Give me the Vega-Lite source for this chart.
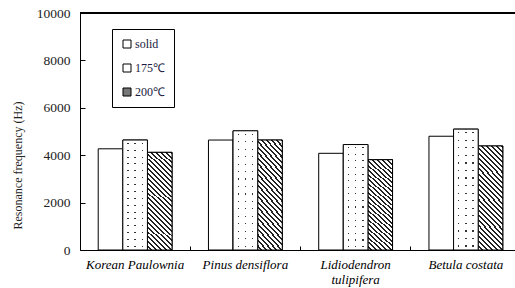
{
  "$schema": "https://vega.github.io/schema/vega-lite/v6.json",
  "autosize": "none",
  "width": 435,
  "height": 237,
  "padding": {"left": 80, "top": 13, "right": 0, "bottom": 38},
  "background": "white",
  "config": {"view": {"stroke": null}},
  "data": {"values": [
    {"species": "Korean Paulownia", "type": "solid", "value": 4270},
    {"species": "Korean Paulownia", "type": "175℃", "value": 4640},
    {"species": "Korean Paulownia", "type": "200℃", "value": 4120},
    {"species": "Pinus densiflora", "type": "solid", "value": 4640},
    {"species": "Pinus densiflora", "type": "175℃", "value": 5030},
    {"species": "Pinus densiflora", "type": "200℃", "value": 4640},
    {"species": "Lidiodendron tulipifera", "type": "solid", "value": 4080},
    {"species": "Lidiodendron tulipifera", "type": "175℃", "value": 4450},
    {"species": "Lidiodendron tulipifera", "type": "200℃", "value": 3810},
    {"species": "Betula costata", "type": "solid", "value": 4800},
    {"species": "Betula costata", "type": "175℃", "value": 5100},
    {"species": "Betula costata", "type": "200℃", "value": 4390}
  ]},
  "encoding": {
    "x": {"field": "species", "type": "nominal", "sort": null,
      "scale": {"range": [0, 441], "paddingInner": 0, "paddingOuter": 0},
      "axis": {"title": null, "labelAngle": 0, "bandPosition": 0,
        "tickSize": -4, "tickColor": "black", "domainColor": "black", "labelPadding": 12,
        "labelFont": "Liberation Serif", "labelFontStyle": "italic", "labelFontSize": 13,
        "labelColor": "black", "labelLineHeight": 15,
        "labelExpr": "datum.value == 'Lidiodendron tulipifera' ? ['Lidiodendron', 'tulipifera'] : datum.value"}},
    "xOffset": {"field": "type", "type": "nominal",
      "scale": {"domain": ["solid", "175℃", "200℃"], "paddingInner": 0, "paddingOuter": 0.74}},
    "y": {"field": "value", "type": "quantitative",
      "scale": {"domain": [0, 10000], "nice": false},
      "axis": {"values": [0, 2000, 4000, 6000, 8000, 10000], "format": "d", "grid": false,
        "tickSize": -5, "tickColor": "black", "domainColor": "black", "labelPadding": 15,
        "labelFont": "Liberation Serif", "labelFontSize": 13.5, "labelColor": "#222",
        "title": "Resonance frequency (Hz)", "titleFont": "Liberation Serif", "titleFontSize": 12,
        "titleFontWeight": "normal", "titleColor": "#222", "titleX": -56, "titleY": 152}}
  },
  "layer": [
    {
      "mark": {"type": "bar", "stroke": "black", "strokeWidth": 1},
      "encoding": {
        "fill": {"field": "type", "type": "nominal",
          "scale": {"domain": ["solid", "175℃", "200℃"], "range": ["white", "white", "#777777"]},
          "legend": {"title": null, "orient": "none", "legendX": 32, "legendY": 16,
            "direction": "vertical", "strokeColor": "black", "fillColor": "white", "padding": 9,
            "symbolType": "square", "symbolSize": 64, "symbolStrokeColor": "black", "symbolStrokeWidth": 1,
            "labelFont": "Liberation Serif", "labelFontSize": 12, "labelColor": "#1a1a40",
            "labelOffset": 2, "rowPadding": 12}}
      }
    },
    {
      "transform": [{"filter": "datum.type == '200℃'"}],
      "mark": {"type": "bar", "stroke": "black", "strokeWidth": 1,
        "fill": {"gradient": "linear", "x1": 0, "y1": 1, "x2": 0.289, "y2": -0.176, "stops": [
          {"offset": 0, "color": "#ffffff"}, {"offset": 0.024, "color": "#ffffff"}, {"offset": 0.024, "color": "#222222"}, {"offset": 0.04, "color": "#222222"},
          {"offset": 0.04, "color": "#ffffff"}, {"offset": 0.064, "color": "#ffffff"}, {"offset": 0.064, "color": "#222222"}, {"offset": 0.08, "color": "#222222"},
          {"offset": 0.08, "color": "#ffffff"}, {"offset": 0.104, "color": "#ffffff"}, {"offset": 0.104, "color": "#222222"}, {"offset": 0.12, "color": "#222222"},
          {"offset": 0.12, "color": "#ffffff"}, {"offset": 0.144, "color": "#ffffff"}, {"offset": 0.144, "color": "#222222"}, {"offset": 0.16, "color": "#222222"},
          {"offset": 0.16, "color": "#ffffff"}, {"offset": 0.184, "color": "#ffffff"}, {"offset": 0.184, "color": "#222222"}, {"offset": 0.2, "color": "#222222"},
          {"offset": 0.2, "color": "#ffffff"}, {"offset": 0.224, "color": "#ffffff"}, {"offset": 0.224, "color": "#222222"}, {"offset": 0.24, "color": "#222222"},
          {"offset": 0.24, "color": "#ffffff"}, {"offset": 0.264, "color": "#ffffff"}, {"offset": 0.264, "color": "#222222"}, {"offset": 0.28, "color": "#222222"},
          {"offset": 0.28, "color": "#ffffff"}, {"offset": 0.304, "color": "#ffffff"}, {"offset": 0.304, "color": "#222222"}, {"offset": 0.32, "color": "#222222"},
          {"offset": 0.32, "color": "#ffffff"}, {"offset": 0.344, "color": "#ffffff"}, {"offset": 0.344, "color": "#222222"}, {"offset": 0.36, "color": "#222222"},
          {"offset": 0.36, "color": "#ffffff"}, {"offset": 0.384, "color": "#ffffff"}, {"offset": 0.384, "color": "#222222"}, {"offset": 0.4, "color": "#222222"},
          {"offset": 0.4, "color": "#ffffff"}, {"offset": 0.424, "color": "#ffffff"}, {"offset": 0.424, "color": "#222222"}, {"offset": 0.44, "color": "#222222"},
          {"offset": 0.44, "color": "#ffffff"}, {"offset": 0.464, "color": "#ffffff"}, {"offset": 0.464, "color": "#222222"}, {"offset": 0.48, "color": "#222222"},
          {"offset": 0.48, "color": "#ffffff"}, {"offset": 0.504, "color": "#ffffff"}, {"offset": 0.504, "color": "#222222"}, {"offset": 0.52, "color": "#222222"},
          {"offset": 0.52, "color": "#ffffff"}, {"offset": 0.544, "color": "#ffffff"}, {"offset": 0.544, "color": "#222222"}, {"offset": 0.56, "color": "#222222"},
          {"offset": 0.56, "color": "#ffffff"}, {"offset": 0.584, "color": "#ffffff"}, {"offset": 0.584, "color": "#222222"}, {"offset": 0.6, "color": "#222222"},
          {"offset": 0.6, "color": "#ffffff"}, {"offset": 0.624, "color": "#ffffff"}, {"offset": 0.624, "color": "#222222"}, {"offset": 0.64, "color": "#222222"},
          {"offset": 0.64, "color": "#ffffff"}, {"offset": 0.664, "color": "#ffffff"}, {"offset": 0.664, "color": "#222222"}, {"offset": 0.68, "color": "#222222"},
          {"offset": 0.68, "color": "#ffffff"}, {"offset": 0.704, "color": "#ffffff"}, {"offset": 0.704, "color": "#222222"}, {"offset": 0.72, "color": "#222222"},
          {"offset": 0.72, "color": "#ffffff"}, {"offset": 0.744, "color": "#ffffff"}, {"offset": 0.744, "color": "#222222"}, {"offset": 0.76, "color": "#222222"},
          {"offset": 0.76, "color": "#ffffff"}, {"offset": 0.784, "color": "#ffffff"}, {"offset": 0.784, "color": "#222222"}, {"offset": 0.8, "color": "#222222"},
          {"offset": 0.8, "color": "#ffffff"}, {"offset": 0.824, "color": "#ffffff"}, {"offset": 0.824, "color": "#222222"}, {"offset": 0.84, "color": "#222222"},
          {"offset": 0.84, "color": "#ffffff"}, {"offset": 0.864, "color": "#ffffff"}, {"offset": 0.864, "color": "#222222"}, {"offset": 0.88, "color": "#222222"},
          {"offset": 0.88, "color": "#ffffff"}, {"offset": 0.904, "color": "#ffffff"}, {"offset": 0.904, "color": "#222222"}, {"offset": 0.92, "color": "#222222"},
          {"offset": 0.92, "color": "#ffffff"}, {"offset": 0.944, "color": "#ffffff"}, {"offset": 0.944, "color": "#222222"}, {"offset": 0.96, "color": "#222222"},
          {"offset": 0.96, "color": "#ffffff"}, {"offset": 0.984, "color": "#ffffff"}, {"offset": 0.984, "color": "#222222"}, {"offset": 1, "color": "#222222"}
        ]}}
    },
    {
      "transform": [{"filter": "datum.type == '175℃'"}],
      "mark": {"type": "bar", "strokeWidth": 0,
        "fill": {"gradient": "linear", "x1": 0, "y1": 0, "x2": 0, "y2": 1, "stops": [
          {"offset": 0, "color": "#ffffff"},
          {"offset": 0.025, "color": "#ffffff"}, {"offset": 0.025, "color": "#333333"}, {"offset": 0.035, "color": "#333333"}, {"offset": 0.035, "color": "#ffffff"},
          {"offset": 0.0875, "color": "#ffffff"}, {"offset": 0.0875, "color": "#333333"}, {"offset": 0.0975, "color": "#333333"}, {"offset": 0.0975, "color": "#ffffff"},
          {"offset": 0.15, "color": "#ffffff"}, {"offset": 0.15, "color": "#333333"}, {"offset": 0.16, "color": "#333333"}, {"offset": 0.16, "color": "#ffffff"},
          {"offset": 0.2125, "color": "#ffffff"}, {"offset": 0.2125, "color": "#333333"}, {"offset": 0.2225, "color": "#333333"}, {"offset": 0.2225, "color": "#ffffff"},
          {"offset": 0.275, "color": "#ffffff"}, {"offset": 0.275, "color": "#333333"}, {"offset": 0.285, "color": "#333333"}, {"offset": 0.285, "color": "#ffffff"},
          {"offset": 0.3375, "color": "#ffffff"}, {"offset": 0.3375, "color": "#333333"}, {"offset": 0.3475, "color": "#333333"}, {"offset": 0.3475, "color": "#ffffff"},
          {"offset": 0.4, "color": "#ffffff"}, {"offset": 0.4, "color": "#333333"}, {"offset": 0.41, "color": "#333333"}, {"offset": 0.41, "color": "#ffffff"},
          {"offset": 0.4625, "color": "#ffffff"}, {"offset": 0.4625, "color": "#333333"}, {"offset": 0.4725, "color": "#333333"}, {"offset": 0.4725, "color": "#ffffff"},
          {"offset": 0.525, "color": "#ffffff"}, {"offset": 0.525, "color": "#333333"}, {"offset": 0.535, "color": "#333333"}, {"offset": 0.535, "color": "#ffffff"},
          {"offset": 0.5875, "color": "#ffffff"}, {"offset": 0.5875, "color": "#333333"}, {"offset": 0.5975, "color": "#333333"}, {"offset": 0.5975, "color": "#ffffff"},
          {"offset": 0.65, "color": "#ffffff"}, {"offset": 0.65, "color": "#333333"}, {"offset": 0.66, "color": "#333333"}, {"offset": 0.66, "color": "#ffffff"},
          {"offset": 0.7125, "color": "#ffffff"}, {"offset": 0.7125, "color": "#333333"}, {"offset": 0.7225, "color": "#333333"}, {"offset": 0.7225, "color": "#ffffff"},
          {"offset": 0.775, "color": "#ffffff"}, {"offset": 0.775, "color": "#333333"}, {"offset": 0.785, "color": "#333333"}, {"offset": 0.785, "color": "#ffffff"},
          {"offset": 0.8375, "color": "#ffffff"}, {"offset": 0.8375, "color": "#333333"}, {"offset": 0.8475, "color": "#333333"}, {"offset": 0.8475, "color": "#ffffff"},
          {"offset": 0.9, "color": "#ffffff"}, {"offset": 0.9, "color": "#333333"}, {"offset": 0.91, "color": "#333333"}, {"offset": 0.91, "color": "#ffffff"},
          {"offset": 0.9625, "color": "#ffffff"}, {"offset": 0.9625, "color": "#333333"}, {"offset": 0.9725, "color": "#333333"}, {"offset": 0.9725, "color": "#ffffff"},
          {"offset": 1, "color": "#ffffff"}
        ]}}
    },
    {
      "transform": [{"filter": "datum.type == '175℃'"}],
      "mark": {"type": "bar", "stroke": "black", "strokeWidth": 1,
        "fill": {"gradient": "linear", "x1": 0, "y1": 0, "x2": 1, "y2": 0, "stops": [
          {"offset": 0, "color": "rgba(255,255,255,1)"},
          {"offset": 0.18, "color": "rgba(255,255,255,1)"}, {"offset": 0.18, "color": "rgba(255,255,255,0)"}, {"offset": 0.24, "color": "rgba(255,255,255,0)"}, {"offset": 0.24, "color": "rgba(255,255,255,1)"},
          {"offset": 0.47, "color": "rgba(255,255,255,1)"}, {"offset": 0.47, "color": "rgba(255,255,255,0)"}, {"offset": 0.53, "color": "rgba(255,255,255,0)"}, {"offset": 0.53, "color": "rgba(255,255,255,1)"},
          {"offset": 0.76, "color": "rgba(255,255,255,1)"}, {"offset": 0.76, "color": "rgba(255,255,255,0)"}, {"offset": 0.82, "color": "rgba(255,255,255,0)"}, {"offset": 0.82, "color": "rgba(255,255,255,1)"},
          {"offset": 1, "color": "rgba(255,255,255,1)"}
        ]}}
    },
    {
      "mark": {"type": "rule", "color": "black", "strokeWidth": 1},
      "encoding": {"y": {"datum": 10000}, "x": null, "xOffset": null}
    }
  ]
}
